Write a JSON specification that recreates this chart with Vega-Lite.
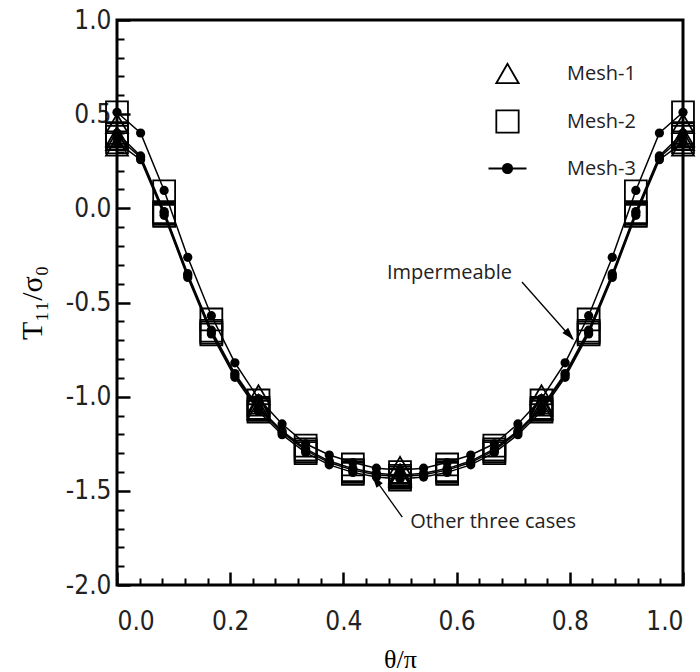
{
  "$schema": "https://vega.github.io/schema/vega-lite/v6.json",
  "width": 566,
  "height": 565,
  "autosize": {"type": "none"},
  "padding": {"left": 117, "top": 20, "right": 17, "bottom": 87},
  "background": "white",
  "config": {
    "locale": {"number": {"decimal": ".", "thousands": ",", "grouping": [3], "currency": ["$", ""], "minus": "-"}},
    "view": {"stroke": "black", "strokeWidth": 3},
    "axis": {
      "grid": false,
      "domain": false,
      "tickColor": "black",
      "labelColor": "#222",
      "labelFont": "Liberation Sans Narrow, DejaVu Sans Condensed, Liberation Sans",
      "labelFontSize": 26,
      "titleColor": "black",
      "titleFont": "Liberation Serif, DejaVu Serif",
      "titleFontWeight": "normal"
    }
  },
  "datasets": {
    "mesh": [
      {"m": "Mesh-1", "x": 0, "I": 0.45, "A": 0.36, "B": 0.33, "C": 0.38},
      {"m": "Mesh-1", "x": 0.25, "I": -0.99, "A": -1.05, "B": -1.07, "C": -1.04},
      {"m": "Mesh-1", "x": 0.5, "I": -1.37, "A": -1.42, "B": -1.43, "C": -1.41},
      {"m": "Mesh-1", "x": 0.75, "I": -0.99, "A": -1.05, "B": -1.07, "C": -1.04},
      {"m": "Mesh-1", "x": 1, "I": 0.45, "A": 0.36, "B": 0.33, "C": 0.38},
      {"m": "Mesh-2", "x": 0, "I": 0.51, "A": 0.38, "B": 0.35, "C": 0.4},
      {"m": "Mesh-2", "x": 0.0833, "I": 0.09, "A": -0.03, "B": -0.04, "C": -0.02},
      {"m": "Mesh-2", "x": 0.1667, "I": -0.59, "A": -0.66, "B": -0.67, "C": -0.65},
      {"m": "Mesh-2", "x": 0.25, "I": -1.02, "A": -1.07, "B": -1.08, "C": -1.06},
      {"m": "Mesh-2", "x": 0.3333, "I": -1.26, "A": -1.29, "B": -1.3, "C": -1.28},
      {"m": "Mesh-2", "x": 0.4167, "I": -1.36, "A": -1.4, "B": -1.41, "C": -1.39},
      {"m": "Mesh-2", "x": 0.5, "I": -1.4, "A": -1.43, "B": -1.44, "C": -1.42},
      {"m": "Mesh-2", "x": 0.5833, "I": -1.36, "A": -1.4, "B": -1.41, "C": -1.39},
      {"m": "Mesh-2", "x": 0.6667, "I": -1.26, "A": -1.29, "B": -1.3, "C": -1.28},
      {"m": "Mesh-2", "x": 0.75, "I": -1.02, "A": -1.07, "B": -1.08, "C": -1.06},
      {"m": "Mesh-2", "x": 0.8333, "I": -0.59, "A": -0.66, "B": -0.67, "C": -0.65},
      {"m": "Mesh-2", "x": 0.9167, "I": 0.09, "A": -0.03, "B": -0.04, "C": -0.02},
      {"m": "Mesh-2", "x": 1, "I": 0.51, "A": 0.38, "B": 0.35, "C": 0.4},
      {"m": "Mesh-3", "x": 0, "I": 0.51, "A": 0.38, "B": 0.35, "C": 0.4},
      {"m": "Mesh-3", "x": 0.0417, "I": 0.4, "A": 0.27, "B": 0.258, "C": 0.278},
      {"m": "Mesh-3", "x": 0.0833, "I": 0.095, "A": -0.025, "B": -0.037, "C": -0.017},
      {"m": "Mesh-3", "x": 0.125, "I": -0.26, "A": -0.355, "B": -0.367, "C": -0.347},
      {"m": "Mesh-3", "x": 0.1667, "I": -0.57, "A": -0.655, "B": -0.667, "C": -0.647},
      {"m": "Mesh-3", "x": 0.2083, "I": -0.82, "A": -0.885, "B": -0.897, "C": -0.877},
      {"m": "Mesh-3", "x": 0.25, "I": -1.01, "A": -1.065, "B": -1.077, "C": -1.057},
      {"m": "Mesh-3", "x": 0.2917, "I": -1.145, "A": -1.19, "B": -1.202, "C": -1.182},
      {"m": "Mesh-3", "x": 0.3333, "I": -1.25, "A": -1.285, "B": -1.297, "C": -1.277},
      {"m": "Mesh-3", "x": 0.375, "I": -1.31, "A": -1.35, "B": -1.362, "C": -1.342},
      {"m": "Mesh-3", "x": 0.4167, "I": -1.35, "A": -1.39, "B": -1.402, "C": -1.382},
      {"m": "Mesh-3", "x": 0.4583, "I": -1.38, "A": -1.415, "B": -1.427, "C": -1.407},
      {"m": "Mesh-3", "x": 0.5, "I": -1.39, "A": -1.425, "B": -1.437, "C": -1.417},
      {"m": "Mesh-3", "x": 0.5417, "I": -1.38, "A": -1.415, "B": -1.427, "C": -1.407},
      {"m": "Mesh-3", "x": 0.5833, "I": -1.35, "A": -1.39, "B": -1.402, "C": -1.382},
      {"m": "Mesh-3", "x": 0.625, "I": -1.31, "A": -1.35, "B": -1.362, "C": -1.342},
      {"m": "Mesh-3", "x": 0.6667, "I": -1.25, "A": -1.285, "B": -1.297, "C": -1.277},
      {"m": "Mesh-3", "x": 0.7083, "I": -1.145, "A": -1.19, "B": -1.202, "C": -1.182},
      {"m": "Mesh-3", "x": 0.75, "I": -1.01, "A": -1.065, "B": -1.077, "C": -1.057},
      {"m": "Mesh-3", "x": 0.7917, "I": -0.82, "A": -0.885, "B": -0.897, "C": -0.877},
      {"m": "Mesh-3", "x": 0.8333, "I": -0.57, "A": -0.655, "B": -0.667, "C": -0.647},
      {"m": "Mesh-3", "x": 0.875, "I": -0.26, "A": -0.355, "B": -0.367, "C": -0.347},
      {"m": "Mesh-3", "x": 0.9167, "I": 0.095, "A": -0.025, "B": -0.037, "C": -0.017},
      {"m": "Mesh-3", "x": 0.9583, "I": 0.4, "A": 0.27, "B": 0.258, "C": 0.278},
      {"m": "Mesh-3", "x": 1, "I": 0.51, "A": 0.38, "B": 0.35, "C": 0.4}
    ],
    "labels": [
      {"x": 0.477, "y": -0.343, "label": "Impermeable"},
      {"x": 0.518, "y": -1.666, "label": "Other three cases"}
    ],
    "leaders": [
      {"x": 0.7155, "y": -0.391, "x2": 0.805, "y2": -0.695},
      {"x": 0.504, "y": -1.64, "x2": 0.452, "y2": -1.42}
    ],
    "head1": [{"x": 0.8074, "y": -0.699}],
    "head2": [{"x": 0.4505, "y": -1.416}]
  },
  "resolve": {"axis": {"x": "independent", "y": "independent"}},
  "layer": [
    {
      "data": {"name": "mesh"},
      "transform": [
        {"fold": ["I", "A", "B", "C"], "as": ["case", "v"]},
        {"filter": "datum.m === 'Mesh-3'"}
      ],
      "mark": {"type": "line", "color": "black", "strokeWidth": 1.5},
      "encoding": {
        "x": {
          "field": "x", "type": "quantitative",
          "scale": {"domain": [0, 1], "nice": false, "zero": false},
          "axis": {
            "orient": "bottom", "values": [0, 0.2, 0.4, 0.6, 0.8, 1.0], "format": ".1f",
            "tickSize": -13, "tickWidth": 2.5, "labelPadding": 36,
            "title": "θ/π", "titleFontSize": 26, "titlePadding": 12
          }
        },
        "y": {
          "field": "v", "type": "quantitative",
          "scale": {"domain": [-2, 1], "nice": false, "zero": false},
          "axis": {
            "orient": "left", "values": [-2, -1.5, -1, -0.5, 0, 0.5, 1], "format": ".1f",
            "tickSize": -13, "tickWidth": 2.5, "labelPadding": 19,
            "title": "T₁₁/σ₀", "titleFontSize": 30, "titlePadding": 18
          }
        },
        "detail": {"field": "case"}
      }
    },
    {
      "data": {"name": "mesh"},
      "transform": [
        {"fold": ["I", "A", "B", "C"], "as": ["case", "v"]},
        {"filter": "datum.m !== 'Mesh-3'"}
      ],
      "mark": {"type": "point", "opacity": 1, "strokeWidth": 1.8, "size": 480},
      "encoding": {
        "x": {
          "field": "x", "type": "quantitative",
          "axis": {
            "orient": "bottom",
            "values": [0.04, 0.08, 0.12, 0.16, 0.24, 0.28, 0.32, 0.36, 0.44, 0.48, 0.52, 0.56, 0.64, 0.68, 0.72, 0.76, 0.84, 0.88, 0.92, 0.96],
            "tickSize": -7, "tickWidth": 2, "labels": false, "title": null
          }
        },
        "y": {
          "field": "v", "type": "quantitative",
          "axis": {
            "orient": "left",
            "values": [-1.9, -1.8, -1.7, -1.6, -1.4, -1.3, -1.2, -1.1, -0.9, -0.8, -0.7, -0.6, -0.4, -0.3, -0.2, -0.1, 0.1, 0.2, 0.3, 0.4, 0.6, 0.7, 0.8, 0.9],
            "tickSize": -7, "tickWidth": 2, "labels": false, "title": null
          }
        },
        "shape": {
          "field": "m", "type": "nominal",
          "scale": {"domain": ["Mesh-1", "Mesh-2", "Mesh-3"], "range": ["triangle-up", "square", "M-1.7,0H1.7M-0.42,0A0.42,0.42 0 1,0 0.42,0A0.42,0.42 0 1,0 -0.42,0Z"]},
          "legend": {
            "orient": "none", "legendX": 378, "legendY": 41, "title": null,
            "symbolSize": 500, "symbolStrokeWidth": 1.8, "symbolOpacity": 1,
            "labelFont": "Open Sans", "labelFontSize": 20, "labelColor": "#222",
            "labelOffset": 47, "rowPadding": 19
          }
        },
        "fill": {
          "field": "m", "type": "nominal",
          "scale": {"domain": ["Mesh-1", "Mesh-2", "Mesh-3"], "range": ["transparent", "transparent", "black"]}
        },
        "stroke": {
          "field": "m", "type": "nominal",
          "scale": {"domain": ["Mesh-1", "Mesh-2", "Mesh-3"], "range": ["black", "black", "black"]}
        }
      }
    },
    {
      "data": {"name": "mesh"},
      "transform": [
        {"fold": ["I", "A", "B", "C"], "as": ["case", "v"]},
        {"filter": "datum.m === 'Mesh-3'"}
      ],
      "mark": {"type": "point", "shape": "circle", "filled": true, "color": "black", "opacity": 1, "size": 85},
      "encoding": {
        "x": {"field": "x", "type": "quantitative", "axis": null},
        "y": {"field": "v", "type": "quantitative", "axis": null}
      }
    },
    {
      "data": {"name": "leaders"},
      "mark": {"type": "rule", "color": "black", "strokeWidth": 1.3},
      "encoding": {
        "x": {"field": "x", "type": "quantitative", "axis": null},
        "y": {"field": "y", "type": "quantitative", "axis": null},
        "x2": {"field": "x2"},
        "y2": {"field": "y2"}
      }
    },
    {
      "data": {"name": "head1"},
      "mark": {"type": "point", "shape": "M0,0L-0.3,1L0.3,1Z", "size": 676, "angle": 138, "filled": true, "color": "black", "opacity": 1},
      "encoding": {
        "x": {"field": "x", "type": "quantitative", "axis": null},
        "y": {"field": "y", "type": "quantitative", "axis": null}
      }
    },
    {
      "data": {"name": "head2"},
      "mark": {"type": "point", "shape": "M0,0L-0.3,1L0.3,1Z", "size": 676, "angle": 324, "filled": true, "color": "black", "opacity": 1},
      "encoding": {
        "x": {"field": "x", "type": "quantitative", "axis": null},
        "y": {"field": "y", "type": "quantitative", "axis": null}
      }
    },
    {
      "data": {"name": "labels"},
      "mark": {"type": "text", "align": "left", "baseline": "middle", "font": "Open Sans", "fontSize": 20, "color": "#222"},
      "encoding": {
        "x": {"field": "x", "type": "quantitative", "axis": null},
        "y": {"field": "y", "type": "quantitative", "axis": null},
        "text": {"field": "label"}
      }
    }
  ]
}
